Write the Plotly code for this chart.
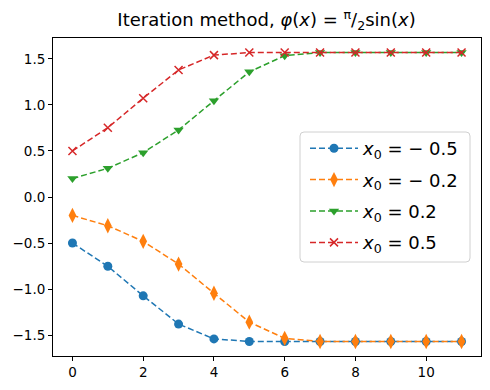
import plotly.graph_objects as go

iterations = list(range(12))
x_m05 = [-0.5, -0.753, -1.074, -1.381, -1.542, -1.570, -1.571, -1.571, -1.571, -1.571, -1.571, -1.571]
x_m02 = [-0.2, -0.312, -0.482, -0.729, -1.046, -1.360, -1.536, -1.570, -1.571, -1.571, -1.571, -1.571]
x_p02 = [0.2, 0.312, 0.482, 0.729, 1.046, 1.360, 1.536, 1.570, 1.571, 1.571, 1.571, 1.571]
x_p05 = [0.5, 0.753, 1.074, 1.381, 1.542, 1.570, 1.571, 1.571, 1.571, 1.571, 1.571, 1.571]

labels = ["<i>x</i><sub>0</sub> = − 0.5", "<i>x</i><sub>0</sub> = − 0.2",
          "<i>x</i><sub>0</sub> = 0.2", "<i>x</i><sub>0</sub> = 0.5"]
colors = ["#1f77b4", "#ff7f0e", "#2ca02c", "#d62728"]
symbols = ["circle", "diamond-tall", "triangle-down", "x-thin"]
sizes = [9, 11, 9, 8]
series = [x_m05, x_m02, x_p02, x_p05]

fig = go.Figure()
for i, (y, lab, c, s, sz) in enumerate(zip(series, labels, colors, symbols, sizes)):
    marker = dict(symbol=s, size=sz, color=c)
    if s == "x-thin":
        marker["line"] = dict(color=c, width=1.5)
    else:
        marker["line"] = dict(width=0)
    fig.add_trace(go.Scatter(
        x=iterations, y=y, mode="lines+markers", name=lab, legendgroup=f"g{i}",
        line=dict(color=c, width=1.5, dash="6px,3px"),
        marker=marker,
    ))

# page body has an 8px margin; compensate
W, H = 474, 374
L, T = 45, 30
R = W + 8 - 481
B = H + 8 - 356

# legend frame (rounded rectangle, paper coords)
x0, x1 = (300 - 53) / 428, (470 - 53) / 428
y1, y0 = (356 - 132) / 318, (356 - 262) / 318
rx, ry = 4 / 428, 4 / 318
path = (f"M {x0+rx},{y0} L {x1-rx},{y0} Q {x1},{y0} {x1},{y0+ry} L {x1},{y1-ry} "
        f"Q {x1},{y1} {x1-rx},{y1} L {x0+rx},{y1} Q {x0},{y1} {x0},{y1-ry} "
        f"L {x0},{y0+ry} Q {x0},{y0} {x0+rx},{y0} Z")
fig.add_shape(type="path", path=path, xref="paper", yref="paper",
              line=dict(color="#d0d0d0", width=1), fillcolor="rgba(255,255,255,0.8)",
              layer="above")

fig.update_layout(
    width=W, height=H,
    margin=dict(l=L, r=R, t=T, b=B, autoexpand=False),
    plot_bgcolor="white", paper_bgcolor="white",
    font=dict(family="DejaVu Sans", size=13, color="black"),
    title=dict(text="Iteration method, <i>φ</i>(<i>x</i>) = <sup>π</sup>/<sub>2</sub>sin(<i>x</i>)",
               x=(266.5 - 8) / W, xanchor="center", y=1 - (20 - 8) / H, yanchor="middle",
               font=dict(size=18)),
    showlegend=True,
    legend=dict(x=(305 - 53) / 428, y=(356 - 130) / 318, xanchor="left", yanchor="top",
                borderwidth=0, bgcolor="rgba(0,0,0,0)", itemwidth=48,
                font=dict(size=18), traceorder="grouped", tracegroupgap=5),
    xaxis=dict(range=[-0.55, 11.55], tickvals=[0, 2, 4, 6, 8, 10], showgrid=False,
               zeroline=False, showline=True, linecolor="black", linewidth=1, mirror=True,
               ticks="outside", ticklen=4, tickcolor="black", automargin=False,
               tickfont=dict(size=13.5)),
    yaxis=dict(range=[-1.728, 1.728], tickvals=[-1.5, -1.0, -0.5, 0.0, 0.5, 1.0, 1.5],
               ticktext=["−1.5", "−1.0", "−0.5", "0.0", "0.5", "1.0", "1.5"],
               showgrid=False, zeroline=False, showline=True, linecolor="black", linewidth=1,
               mirror=True, ticks="outside", ticklen=4, tickcolor="black", automargin=False,
               tickfont=dict(size=13.5)),
)
fig.write_html("out.html")
